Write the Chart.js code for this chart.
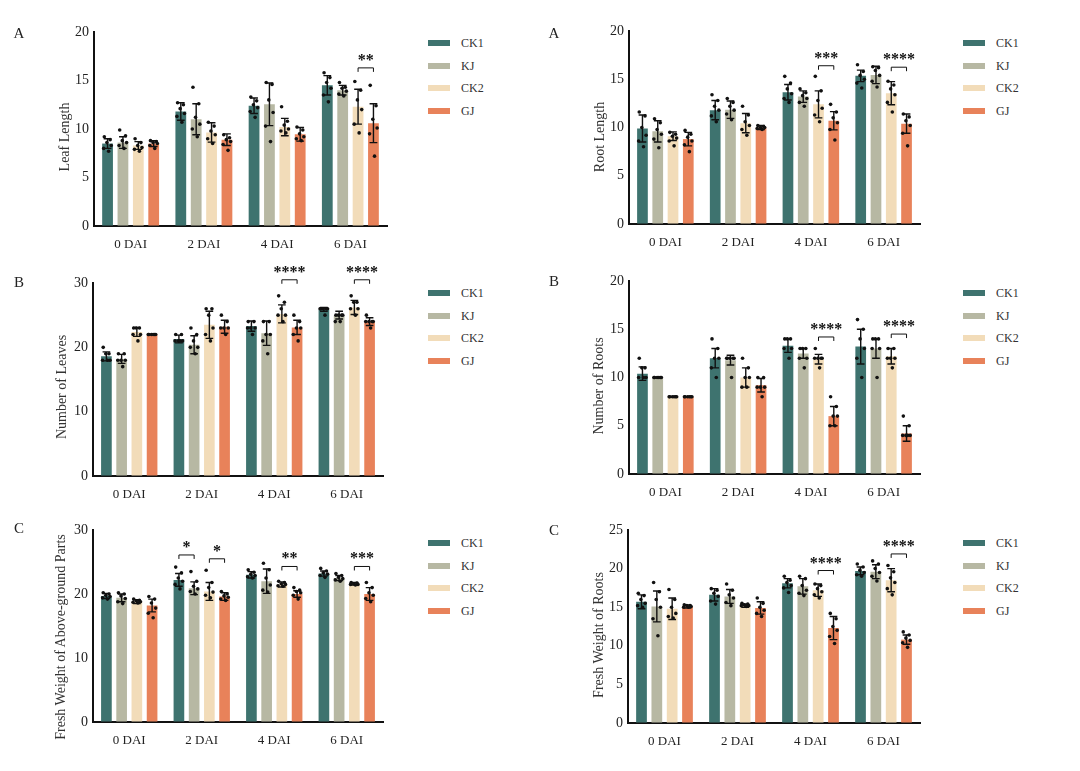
<!DOCTYPE html>
<html>
<head>
<meta charset="utf-8">
<script src="https://cdn.jsdelivr.net/npm/chart.js@4"></script>
<style>
  body { margin: 0; background: #fff; }
  #page { position: relative; width: 1080px; height: 771px; overflow: hidden; font-family: "Liberation Serif", "Times New Roman", serif; color: #222; }
  canvas { position: absolute; }
  .letter { position: absolute; font-size: 15px; transform: translate(-50%, -50%); }
  .ytitle { position: absolute; font-size: 14px; white-space: nowrap; transform: translate(-50%, -50%) rotate(-90deg); color: #333; }
  .leg { position: absolute; font-size: 12px; color: #333; }
  .leg i { position: absolute; width: 22px; height: 6px; top: -3px; }
  .leg span { position: absolute; left: 33px; top: -7px; line-height: 14px; }
</style>
</head>
<body>
<div id="page"></div>
<script>
const days = ['0 DAI', '2 DAI', '4 DAI', '6 DAI'];
const groups = ['CK1', 'KJ', 'CK2', 'GJ'];
const colors = ['#3e736f', '#b7b8a3', '#f2dcb9', '#e8825a'];

// Leaf Length (series x day)
const leafLenMean = [[8.5, 11.8, 12.4, 14.5], [8.6, 11.0, 12.55, 14.0], [8.3, 9.65, 10.2, 12.3], [8.5, 8.9, 9.45, 10.6]];
const leafLenSd = [[0.5, 0.9, 0.8, 1.0], [0.6, 1.6, 2.2, 0.5], [0.4, 1.0, 0.9, 1.8], [0.3, 0.6, 0.7, 2.0]];
const leafLenDots = [
  [[9.2, 8.9, 8.6, 8.3, 8.0, 7.7], [12.7, 12.5, 12.1, 11.6, 11.3, 10.7], [13.3, 12.9, 12.5, 12.2, 11.8, 11.2], [15.8, 15.3, 14.8, 14.2, 13.5, 12.8]],
  [[9.9, 9.3, 8.8, 8.6, 8.3, 8.0], [14.3, 12.6, 11.2, 10.5, 10.0, 9.2], [14.8, 14.6, 13.0, 11.7, 10.3, 8.7], [14.8, 14.3, 14.2, 13.9, 13.6, 13.4]],
  [[9.0, 8.6, 8.3, 8.1, 7.9, 7.7], [10.7, 10.3, 9.8, 9.4, 9.0, 8.5], [12.3, 10.8, 10.4, 10.0, 9.8, 9.6], [14.9, 14.0, 13.0, 12.0, 10.5, 9.6]],
  [[8.8, 8.7, 8.6, 8.5, 8.3, 8.0], [9.4, 9.1, 8.9, 8.7, 8.4, 7.8], [10.2, 9.9, 9.5, 9.2, 9.0, 8.8], [14.5, 12.4, 11.0, 10.1, 9.5, 7.2]]
];
const leafLenSig = [[3, 2, 3, '**', 16.3]];

// Root Length
const rootLenMean = [[9.9, 11.8, 13.65, 15.35], [9.6, 11.85, 13.2, 15.45], [9.1, 10.45, 12.4, 13.55], [8.8, 10.0, 10.7, 10.4]];
const rootLenSd = [[1.4, 1.0, 0.8, 0.6], [1.1, 0.9, 0.6, 0.9], [0.45, 1.0, 1.4, 1.2], [0.7, 0.2, 0.95, 1.0]];
const rootLenDots = [
  [[11.6, 11.2, 10.0, 9.2, 8.6, 8.0], [13.4, 12.8, 12.2, 11.8, 11.2, 10.6], [15.3, 14.6, 14.0, 13.5, 13.0, 12.6], [16.5, 15.8, 15.4, 15.0, 14.6, 14.1]],
  [[10.9, 10.5, 9.8, 9.3, 8.8, 7.9], [13.0, 12.6, 12.2, 11.8, 11.4, 10.8], [14.0, 13.6, 13.3, 13.0, 12.6, 12.2], [16.3, 16.2, 15.9, 15.4, 14.8, 14.2]],
  [[9.5, 9.3, 9.1, 8.9, 8.6, 8.1], [12.2, 11.3, 10.6, 10.2, 9.8, 9.2], [15.3, 13.8, 12.8, 12.0, 11.3, 10.6], [14.8, 14.4, 14.0, 13.4, 12.6, 11.6]],
  [[9.7, 9.3, 9.0, 8.6, 8.2, 7.5], [10.2, 10.1, 10.0, 10.0, 9.9, 9.8], [12.4, 11.6, 11.0, 10.5, 9.8, 8.7], [11.4, 11.1, 10.7, 10.2, 9.4, 8.1]]
];
const rootLenSig = [[2, 2, 3, '***', 16.4], [3, 2, 3, '****', 16.25]];

// Number of Leaves
const leavesMean = [[18.6, 21.3, 23.3, 25.9], [18.2, 20.4, 22.2, 25.0], [22.4, 23.5, 25.2, 26.2], [22.0, 23.2, 23.1, 24.0]];
const leavesSd = [[0.7, 0.6, 0.8, 0.3], [0.7, 1.4, 1.9, 0.6], [0.7, 2.1, 1.4, 1.1], [0, 1.0, 1.1, 0.6]];
const leavesDots = [
  [[20, 19, 19, 18, 18, 18], [22, 22, 21, 21, 21, 21], [24, 24, 23, 23, 23, 22], [26, 26, 26, 26, 26, 25]],
  [[19, 19, 18, 18, 18, 17], [23, 22, 21, 20, 20, 19], [24, 24, 22, 22, 21, 19], [25, 25, 25, 25, 24, 24]],
  [[23, 23, 23, 22, 22, 21], [26, 26, 25, 23, 22, 21], [28, 27, 26, 25, 25, 24], [28, 27, 27, 26, 26, 25]],
  [[22, 22, 22, 22, 22, 22], [25, 24, 23, 23, 23, 22], [25, 24, 23, 23, 22, 21], [25, 24, 24, 24, 24, 23]]
];
const leavesSig = [[2, 2, 3, '****', 30.5], [3, 2, 3, '****', 30.5]];

// Number of Roots
const rootsMean = [[10.4, 12.0, 13.3, 13.2], [10.0, 11.8, 12.5, 13.0], [8.0, 10.0, 11.9, 12.2], [8.0, 9.2, 6.0, 4.2]];
const rootsSd = [[0.7, 1.0, 0.7, 1.8], [0, 0.5, 0.5, 1.0], [0, 1.0, 0.5, 0.8], [0, 0.7, 1.0, 0.8]];
const rootsDots = [
  [[12, 11, 11, 10, 10, 10], [14, 13, 12, 12, 11, 10], [14, 14, 14, 13, 13, 12], [16, 15, 14, 13, 12, 10]],
  [[10, 10, 10, 10, 10, 10], [12, 12, 12, 12, 12, 10], [13, 13, 13, 12, 12, 11], [14, 14, 14, 13, 13, 10]],
  [[8, 8, 8, 8, 8, 8], [12, 11, 10, 10, 9, 9], [13, 12, 12, 12, 12, 11], [13, 13, 12, 12, 12, 11]],
  [[8, 8, 8, 8, 8, 8], [10, 10, 9, 9, 9, 8], [8, 7, 6, 6, 5, 5], [6, 5, 4, 4, 4, 4]]
];
const rootsSig = [[2, 2, 3, '****', 14.2], [3, 2, 3, '****', 14.5]];

// Fresh Weight of Above-ground Parts
const shootFwMean = [[19.7, 22.2, 23.0, 23.2], [19.4, 20.9, 22.0, 22.5], [18.8, 20.4, 21.5, 21.6], [18.2, 19.6, 20.0, 20.0]];
const shootFwSd = [[0.4, 1.0, 0.5, 0.4], [0.6, 1.0, 1.9, 0.4], [0.3, 1.4, 0.4, 0.2], [1.0, 0.6, 0.5, 1.0]];
const shootFwDots = [
  [[20.2, 20.0, 19.8, 19.6, 19.4, 19.2], [24.2, 23.3, 22.5, 22.0, 21.5, 20.8], [23.8, 23.4, 23.1, 22.9, 22.7, 22.5], [24.0, 23.6, 23.3, 23.1, 22.9, 22.6]],
  [[20.2, 20.0, 19.7, 19.3, 18.8, 18.5], [23.5, 22.0, 21.2, 20.8, 20.4, 20.0], [24.8, 23.8, 22.5, 21.4, 20.6, 20.3], [23.2, 22.9, 22.6, 22.4, 22.2, 22.0]],
  [[19.2, 19.0, 18.9, 18.8, 18.7, 18.6], [23.7, 21.8, 21.0, 20.3, 19.8, 19.4], [22.0, 21.8, 21.6, 21.5, 21.3, 21.2], [21.8, 21.7, 21.6, 21.5, 21.5, 21.4]],
  [[19.6, 19.2, 18.6, 17.8, 17.0, 16.3], [20.4, 20.0, 19.7, 19.5, 19.2, 19.0], [21.0, 20.6, 20.4, 20.2, 19.8, 19.2], [21.8, 21.0, 20.2, 19.8, 19.3, 18.8]]
];
const shootFwSig = [[1, 0, 1, '*', 26.1], [1, 2, 3, '*', 25.5], [2, 2, 3, '**', 24.3], [3, 2, 3, '***', 24.3]];

// Fresh Weight of Roots
const rootFwMean = [[15.7, 16.6, 18.1, 19.7], [15.1, 16.4, 17.7, 19.6], [14.8, 15.2, 17.2, 18.5], [15.1, 14.9, 12.3, 10.8]];
const rootFwSd = [[0.9, 0.8, 0.6, 0.5], [2.0, 0.9, 1.0, 0.9], [1.4, 0.2, 0.8, 1.5], [0.2, 0.8, 1.5, 0.6]];
const rootFwDots = [
  [[16.8, 16.5, 16.0, 15.5, 15.2, 15.0], [17.4, 17.2, 16.8, 16.4, 15.8, 15.4], [19.0, 18.5, 18.2, 17.8, 17.5, 16.9], [20.6, 20.2, 19.8, 19.5, 19.2, 19.0]],
  [[18.2, 17.0, 16.0, 15.0, 13.5, 11.3], [18.0, 17.2, 16.6, 16.2, 15.6, 15.2], [19.0, 18.7, 17.8, 17.2, 16.8, 16.5], [21.0, 20.6, 20.0, 19.5, 19.0, 18.4]],
  [[17.3, 16.0, 15.0, 14.2, 13.8, 13.6], [15.5, 15.4, 15.3, 15.2, 15.2, 15.1], [18.0, 17.8, 17.4, 17.0, 16.6, 16.2], [20.4, 19.6, 18.8, 18.2, 17.4, 16.6]],
  [[15.3, 15.2, 15.2, 15.1, 15.0, 15.0], [16.2, 15.5, 15.0, 14.6, 14.2, 13.8], [14.2, 13.5, 12.5, 12.0, 11.2, 10.3], [11.8, 11.4, 11.0, 10.7, 10.4, 9.8]]
];
const rootFwSig = [[2, 2, 3, '****', 19.75], [3, 2, 3, '****', 21.9]];

const panels = [
  { letter: 'A', title: 'Leaf Length', max: 20, step: 5, mean: leafLenMean, sd: leafLenSd, dots: leafLenDots, sig: leafLenSig },
  { letter: 'A', title: 'Root Length', max: 20, step: 5, mean: rootLenMean, sd: rootLenSd, dots: rootLenDots, sig: rootLenSig },
  { letter: 'B', title: 'Number of Leaves', max: 30, step: 10, mean: leavesMean, sd: leavesSd, dots: leavesDots, sig: leavesSig },
  { letter: 'B', title: 'Number of Roots', max: 20, step: 5, mean: rootsMean, sd: rootsSd, dots: rootsDots, sig: rootsSig },
  { letter: 'C', title: 'Fresh Weight of Above-ground Parts', max: 30, step: 10, mean: shootFwMean, sd: shootFwSd, dots: shootFwDots, sig: shootFwSig },
  { letter: 'C', title: 'Fresh Weight of Roots', max: 25, step: 5, mean: rootFwMean, sd: rootFwSd, dots: rootFwDots, sig: rootFwSig }
];

// page placement of each panel (pixels)
const boxes = [
  { left: 0, axisX: 94, right: 387, top: 32, bottom: 226, letter: [19, 33], ytitle: [65, 137], legX: 428, legY: 43 },
  { left: 540, axisX: 629, right: 920, top: 31, bottom: 224, letter: [554, 33], ytitle: [600, 137], legX: 963, legY: 43 },
  { left: 0, axisX: 93, right: 383, top: 283, bottom: 476, letter: [19, 282], ytitle: [62, 387], legX: 428, legY: 293 },
  { left: 540, axisX: 629, right: 920, top: 281, bottom: 474, letter: [554, 281], ytitle: [599, 386], legX: 963, legY: 293 },
  { left: 0, axisX: 93, right: 383, top: 530, bottom: 722, letter: [19, 528], ytitle: [61, 637], legX: 428, legY: 543 },
  { left: 540, axisX: 628, right: 920, top: 530, bottom: 723, letter: [554, 530], ytitle: [599, 635], legX: 963, legY: 543 }
];

const serif = '"Liberation Serif", "Times New Roman", serif';
const jitter = [-0.3, 0.24, -0.06, 0.34, -0.36, 0.1];
const page = document.getElementById('page');

// error bars, jittered points and significance brackets
function extras(p) {
  return {
    id: 'extras',
    afterDatasetsDraw(chart) {
      const { ctx } = chart;
      const y = chart.scales.y;
      ctx.save();
      ctx.strokeStyle = '#111';
      ctx.fillStyle = '#111';
      ctx.lineWidth = 1.4;
      p.mean.forEach((row, s) => {
        chart.getDatasetMeta(s).data.forEach((bar, d) => {
          const x = bar.x, w = bar.width;
          const hi = y.getPixelForValue(row[d] + p.sd[s][d]);
          const lo = y.getPixelForValue(row[d] - p.sd[s][d]);
          const cap = w * 0.36;
          ctx.beginPath();
          ctx.moveTo(x, hi); ctx.lineTo(x, lo);
          ctx.moveTo(x - cap, hi); ctx.lineTo(x + cap, hi);
          ctx.moveTo(x - cap, lo); ctx.lineTo(x + cap, lo);
          ctx.stroke();
          p.dots[s][d].forEach((v, k) => {
            ctx.beginPath();
            ctx.arc(x + jitter[k % jitter.length] * w, y.getPixelForValue(v), 1.8, 0, Math.PI * 2);
            ctx.fill();
          });
        });
      });
      ctx.lineWidth = 1;
      ctx.font = 'bold 16px ' + serif;
      ctx.textAlign = 'center';
      ctx.textBaseline = 'alphabetic';
      p.sig.forEach(([d, a, b, label, v]) => {
        const xa = chart.getDatasetMeta(a).data[d].x;
        const xb = chart.getDatasetMeta(b).data[d].x;
        const yp = y.getPixelForValue(v);
        ctx.beginPath();
        ctx.moveTo(xa, yp + 4); ctx.lineTo(xa, yp); ctx.lineTo(xb, yp); ctx.lineTo(xb, yp + 4);
        ctx.stroke();
        ctx.fillText(label, (xa + xb) / 2, yp - 3);
      });
      ctx.restore();
    }
  };
}

panels.forEach((p, i) => {
  const b = boxes[i];
  const top = b.top - 40;
  const h = b.bottom + 34 - top;

  const cv = document.createElement('canvas');
  cv.width = 400; cv.height = h;
  cv.style.left = b.left + 'px';
  cv.style.top = top + 'px';
  cv.style.width = '400px';
  cv.style.height = h + 'px';
  page.appendChild(cv);

  new Chart(cv, {
    type: 'bar',
    data: {
      labels: days,
      datasets: groups.map((g, s) => ({
        label: g,
        data: p.mean[s],
        backgroundColor: colors[s],
        borderWidth: 0,
        categoryPercentage: 0.84,
        barPercentage: 0.7
      }))
    },
    options: {
      responsive: false,
      animation: false,
      layout: { padding: { top: 40, left: 0, bottom: 0, right: b.left + 400 - b.right } },
      plugins: { legend: { display: false }, tooltip: { enabled: false } },
      scales: {
        x: {
          grid: { display: true, drawOnChartArea: false, drawTicks: false },
          border: { display: true, color: '#111', width: 2 },
          ticks: { padding: 11, color: '#222', font: { family: serif, size: 13 } },
          afterFit: (sc) => { sc.height = 34; }
        },
        y: {
          min: 0, max: p.max,
          grid: { display: true, drawOnChartArea: false, drawTicks: false },
          border: { display: true, color: '#111', width: 2 },
          ticks: { stepSize: p.step, padding: 5, color: '#222', font: { family: serif, size: 14 } },
          afterFit: (sc) => { sc.width = b.axisX - b.left; }
        }
      }
    },
    plugins: [extras(p)]
  });

  const letter = document.createElement('div');
  letter.className = 'letter';
  letter.textContent = p.letter;
  letter.style.left = b.letter[0] + 'px';
  letter.style.top = b.letter[1] + 'px';
  page.appendChild(letter);

  const yt = document.createElement('div');
  yt.className = 'ytitle';
  yt.textContent = p.title;
  yt.style.left = b.ytitle[0] + 'px';
  yt.style.top = b.ytitle[1] + 'px';
  page.appendChild(yt);

  groups.forEach((g, s) => {
    const item = document.createElement('div');
    item.className = 'leg';
    item.style.left = b.legX + 'px';
    item.style.top = (b.legY + s * 22.7) + 'px';
    item.innerHTML = '<i style="background:' + colors[s] + '"></i><span>' + g + '</span>';
    page.appendChild(item);
  });
});
</script>
</body>
</html>
